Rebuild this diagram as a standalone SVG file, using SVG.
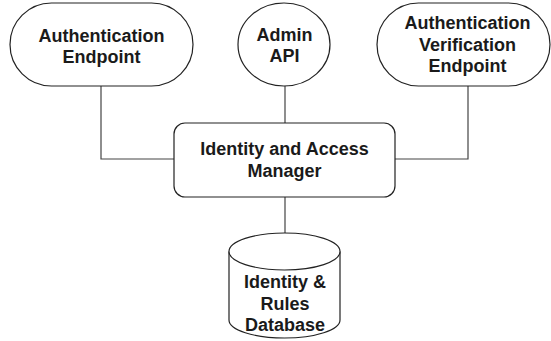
<svg xmlns="http://www.w3.org/2000/svg" width="551" height="341" viewBox="0 0 551 341">
<style>
.shape{fill:#fff;stroke:#222;stroke-width:1.2}
.conn{fill:none;stroke:#444;stroke-width:1.2}
.lbl{font-family:"Liberation Sans",Arial,sans-serif;font-weight:bold;font-size:18px;fill:#1a1a1a;text-anchor:middle}
</style>
<rect width="551" height="341" fill="#fff"/>
<g id="connectors">
<polyline class="conn" points="101,86 101,159 174,159"/>
<line class="conn" x1="285" y1="86" x2="285" y2="123"/>
<polyline class="conn" points="468,86 468,159 395,159"/>
<line class="conn" x1="285" y1="197" x2="285" y2="233"/>
</g>
<g id="auth-endpoint">
<rect class="shape" x="10" y="3" width="183" height="83" rx="41.5" ry="41.5"/>
<text class="lbl" x="101.5" y="42">Authentication</text>
<text class="lbl" x="101.5" y="63">Endpoint</text>
</g>
<g id="admin-api">
<ellipse class="shape" cx="284" cy="44.5" rx="46" ry="41.5"/>
<text class="lbl" x="284.5" y="41">Admin</text>
<text class="lbl" x="284.5" y="62">API</text>
</g>
<g id="auth-verification-endpoint">
<rect class="shape" x="377" y="3" width="173" height="83" rx="41.5" ry="41.5"/>
<text class="lbl" x="467.5" y="29">Authentication</text>
<text class="lbl" x="467.5" y="50.5">Verification</text>
<text class="lbl" x="467.5" y="72">Endpoint</text>
</g>
<g id="iam">
<rect class="shape" x="174" y="123" width="221" height="74" rx="11" ry="11"/>
<text class="lbl" x="284.5" y="155">Identity and Access</text>
<text class="lbl" x="284.5" y="177">Manager</text>
</g>
<g id="database">
<path class="shape" d="M229,251.5 L229,320 A55.5,18 0 0 0 340,320 L340,251.5"/>
<ellipse class="shape" cx="284.5" cy="251.5" rx="55.5" ry="18.5"/>
<text class="lbl" x="285" y="288">Identity &amp;</text>
<text class="lbl" x="285" y="309.5">Rules</text>
<text class="lbl" x="285" y="331">Database</text>
</g>
</svg>
